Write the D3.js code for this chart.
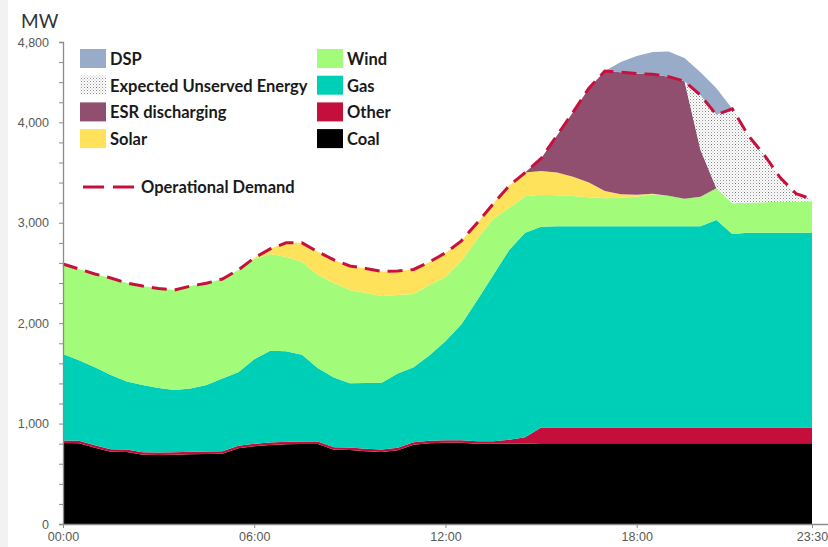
<!DOCTYPE html>
<html>
<head>
<meta charset="utf-8">
<script src="https://cdn.jsdelivr.net/npm/d3@7"></script>
<style>
  html, body { margin: 0; padding: 0; background: #fff; }
  svg { display: block; font-family: Lato, "Open Sans", sans-serif; }
</style>
</head>
<body>
<svg id="chart" width="828" height="547"></svg>
<script>
// half-hourly trading intervals
const times = ["00:00","00:30","01:00","01:30","02:00","02:30","03:00","03:30","04:00","04:30",
  "05:00","05:30","06:00","06:30","07:00","07:30","08:00","08:30","09:00","09:30",
  "10:00","10:30","11:00","11:30","12:00","12:30","13:00","13:30","14:00","14:30",
  "15:00","15:30","16:00","16:30","17:00","17:30","18:00","18:30","19:00","19:30",
  "20:00","20:30","21:00","21:30","22:00","22:30","23:00","23:30"];

// MW by fuel (stack order bottom -> top)
const coal = [807,805,760,720,718,690,688,690,695,697,700,755,775,787,795,797,797,740,737,725,
  717,735,790,805,810,808,800,798,798,800,805,805,805,805,805,805,805,805,805,805,
  805,805,805,805,805,805,805,805];
const other = [25,25,25,25,25,25,25,25,25,25,25,25,25,25,25,25,25,25,25,25,
  25,25,25,25,25,25,25,25,40,65,155,155,155,155,155,155,155,155,155,155,
  155,155,155,155,155,155,155,155];
const gas = [861,800,775,739,677,669,642,619,630,662,725,730,840,914,900,864,728,695,639,655,
  665,740,745,850,985,1157,1405,1657,1891,2035,2000,2005,2005,2005,2005,2005,2005,2005,2005,2005,
  2005,2067,1928,1940,1940,1940,1940,1940];
const wind = [896,910,930,966,980,986,990,996,1020,1013,990,1020,1000,964,940,924,930,940,930,895,
  864,780,730,700,640,630,610,560,421,365,320,310,302,290,278,285,295,318,305,275,
  295,316,305,300,305,308,310,315];
const solar = [0,0,0,0,0,0,0,0,0,0,0,0,10,50,140,190,230,230,239,245,
  244,240,245,230,240,200,160,150,220,235,236,225,192,145,72,35,18,5,0,0,
  0,0,0,0,0,0,0,0];
const esr = [0,0,0,0,0,0,0,0,0,0,0,0,0,0,0,0,0,0,0,0,
  0,0,0,0,0,0,0,0,0,0,124,370,641,940,1195,1215,1207,1192,1185,1170,
  466,0,0,0,0,0,0,0];
const eue = [0,0,0,0,0,0,0,0,0,0,0,0,0,0,0,0,0,0,0,0,
  0,0,0,0,0,0,0,0,0,0,0,0,0,0,0,0,0,0,0,0,
  544,732,942,670,470,242,80,20];
const dsp = [0,0,0,0,0,0,0,0,0,0,0,0,0,0,0,0,0,0,0,0,
  0,0,0,0,0,0,0,0,0,0,0,0,0,0,0,100,175,220,250,230,
  230,265,0,0,0,0,0,0];
const demand = [2589,2540,2490,2450,2400,2370,2345,2330,2370,2397,2440,2530,2650,2740,2800,2800,2710,2630,2570,2545,
  2515,2520,2535,2610,2700,2820,3000,3190,3370,3500,3640,3870,4100,4340,4510,4500,4485,4480,4455,4410,
  4270,4075,4135,3870,3675,3450,3290,3235];

const xTicks = ["00:00","06:00","12:00","18:00","23:30"];
const yTicks = [0,200,400,600,800,1000,1200,1400,1600,1800,2000,2200,2400,2600,2800,3000,3200,3400,3600,3800,4000,4200,4400,4600,4800];
const yLabels = [0,1000,2000,3000,4000,4800];

const keys = ["coal","other","gas","wind","solar","esr","eue","dsp"];
const names = {
  dsp: "DSP", eue: "Expected Unserved Energy", esr: "ESR discharging", solar: "Solar",
  wind: "Wind", gas: "Gas", other: "Other", coal: "Coal"
};
const colors = {
  coal: "#000000", other: "#c40f3c", gas: "#00cfb8", wind: "#a3fb7a",
  solar: "#ffe25c", esr: "#914f70", eue: "url(#eue)", dsp: "#98acca"
};
const series = { coal, other, gas, wind, solar, esr, eue, dsp };

const rows = times.map((t, i) => {
  const r = { time: t, demand: demand[i] };
  keys.forEach(k => { r[k] = series[k][i]; });
  return r;
});

const svg = d3.select('#chart');

// grey slide margin on the left
svg.append('rect').attr('x', 0).attr('y', 0).attr('width', 8).attr('height', 547).attr('fill', '#f2f2f2');

const defs = svg.append('defs');
const pat = defs.append('pattern')
  .attr('id', 'eue').attr('patternUnits', 'userSpaceOnUse')
  .attr('width', 3).attr('height', 3);
pat.append('rect').attr('width', 3).attr('height', 3).attr('fill', '#ffffff');
pat.append('rect').attr('x', 0).attr('y', 0).attr('width', 1).attr('height', 1).attr('fill', '#8c8c8c');
pat.append('rect').attr('x', 1.5).attr('y', 1.5).attr('width', 1).attr('height', 1).attr('fill', '#b5b5b5');

const x = d3.scalePoint().domain(times).range([63, 812]);
const y = d3.scaleLinear().domain([0, 4800]).range([524, 42]);

const stacked = d3.stack().keys(keys)(rows);

const area = d3.area()
  .x(d => x(d.data.time))
  .y0(d => y(d[0]))
  .y1(d => y(d[1]));

svg.append('g').attr('class', 'g-vis')
  .selectAll('path')
  .data(stacked)
  .join('path')
  .attr('d', area)
  .attr('fill', d => colors[d.key]);

// demand line
const line = d3.line()
  .x(d => x(d.time))
  .y(d => y(d.demand));

svg.append('path')
  .datum(rows)
  .attr('d', line)
  .attr('fill', 'none')
  .attr('stroke', '#c8103f')
  .attr('stroke-width', 3)
  .attr('stroke-dasharray', '15,8');

// AXES
const axisY = d3.axisLeft(y)
  .tickValues(yTicks)
  .tickSize(4)
  .tickPadding(4)
  .tickFormat(d => yLabels.includes(d) ? d3.format(',')(d) : '');

const gY = svg.append('g')
  .attr('transform', 'translate(63,0)')
  .call(axisY);
gY.select('.domain').attr('stroke', '#8c8c8c').attr('stroke-width', 1.3);
gY.selectAll('.tick line').attr('stroke', '#8c8c8c');
gY.selectAll('.tick text').attr('fill', '#595959').attr('font-size', 12.5).attr('dx', -6);

const axisX = d3.axisBottom(x)
  .tickValues(xTicks)
  .tickSize(4)
  .tickSizeOuter(0)
  .tickPadding(4);

const gX = svg.append('g')
  .attr('transform', 'translate(0,524)')
  .call(axisX);
gX.select('.domain').attr('d', 'M63,0.5H828').attr('stroke', '#8c8c8c').attr('stroke-width', 1.3);
gX.selectAll('.tick line').attr('stroke', '#8c8c8c');
gX.selectAll('.tick text').attr('fill', '#595959').attr('font-size', 12.5);

svg.append('text')
  .attr('x', 21).attr('y', 28)
  .attr('font-size', 19)
  .attr('fill', '#333')
  .text('MW');

// LEGEND
const legendCols = [
  { x: 80, keys: ["dsp","eue","esr","solar"] },
  { x: 317, keys: ["wind","gas","other","coal"] }
];
const gLegend = svg.append('g').attr('class', 'legend');
legendCols.forEach(col => {
  col.keys.forEach((k, i) => {
    const top = 49 + i * 26.7;
    gLegend.append('rect')
      .attr('x', col.x).attr('y', top)
      .attr('width', 26).attr('height', 19)
      .attr('fill', colors[k]);
    gLegend.append('text')
      .attr('x', col.x + 30).attr('y', top + 16)
      .attr('font-size', 16.5)
      .attr('font-weight', 'bold')
      .attr('fill', '#1a1a1a')
      .text(names[k]);
  });
});

gLegend.append('line')
  .attr('x1', 83).attr('x2', 135)
  .attr('y1', 187).attr('y2', 187)
  .attr('stroke', '#c8103f')
  .attr('stroke-width', 3)
  .attr('stroke-dasharray', '21,9');
gLegend.append('text')
  .attr('x', 141).attr('y', 193)
  .attr('font-size', 16.5)
  .attr('font-weight', 'bold')
  .attr('fill', '#1a1a1a')
  .text('Operational Demand');
</script>
</body>
</html>
